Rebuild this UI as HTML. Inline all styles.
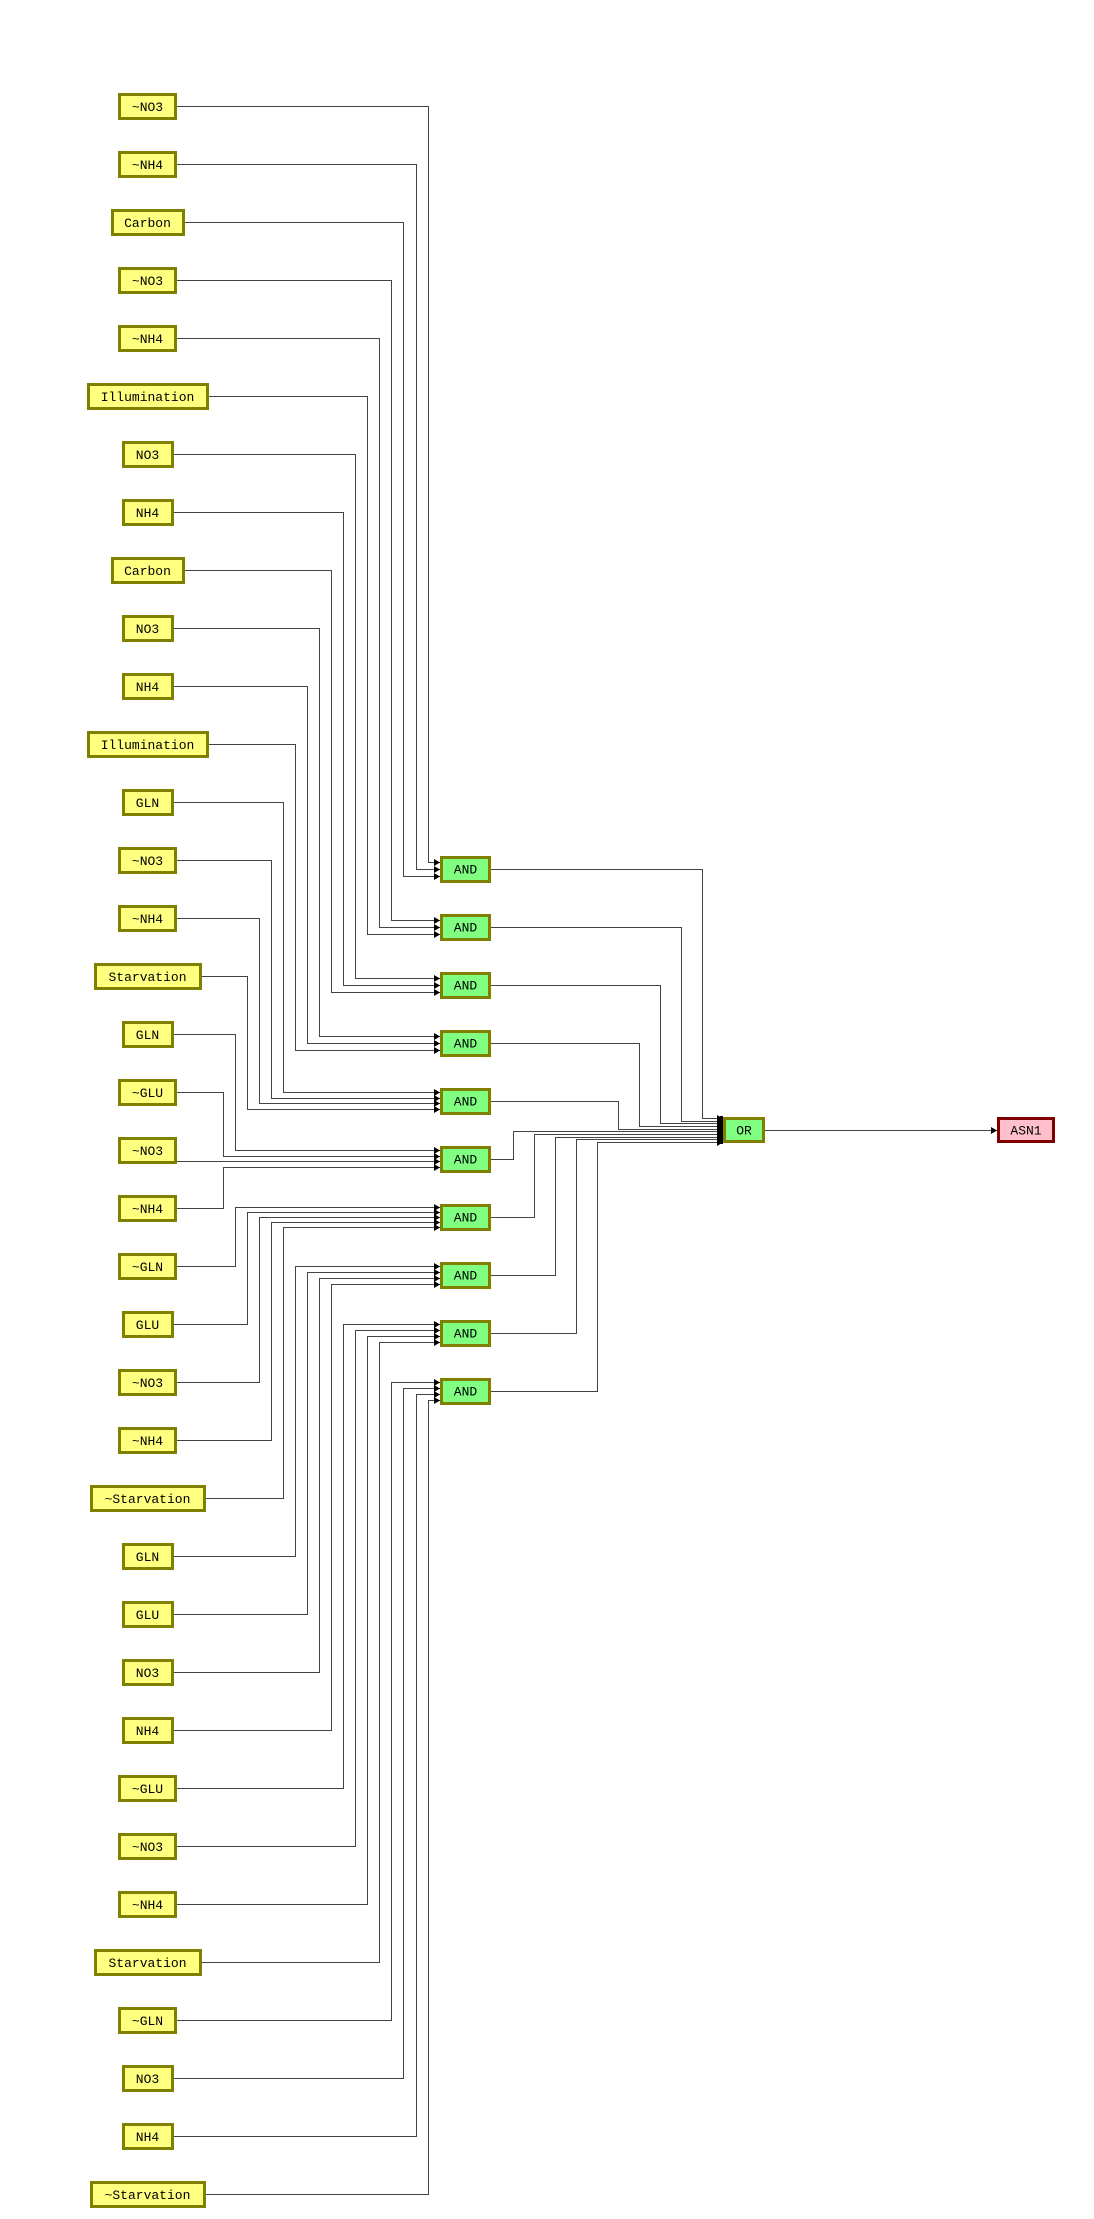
<!DOCTYPE html>
<html><head><meta charset="utf-8"><style>
html,body{margin:0;padding:0;background:#fff;}
svg{display:block;}
text{font-family:"Liberation Mono","DejaVu Sans Mono",monospace;font-size:13px;fill:#000;text-anchor:middle;}
.n{fill:#ffff80;stroke:#808000;stroke-width:3;}
.g{fill:#80ff80;stroke:#808000;stroke-width:3;}
.w{fill:none;stroke:#444;stroke-width:1;marker-end:url(#a);}
</style></head><body>
<svg width="1094" height="2219" viewBox="0 0 1094 2219" xmlns="http://www.w3.org/2000/svg">
<defs><marker id="a" markerWidth="6" markerHeight="7" refX="6" refY="3.5" orient="auto" markerUnits="userSpaceOnUse"><path d="M0,0 L6,3.5 L0,7z" fill="#000"/></marker></defs>
<g>
<path class="w" d="M177 106.5 H428.5 V862.5 H440"/>
<path class="w" d="M177 164.5 H416.5 V869.5 H440"/>
<path class="w" d="M185 222.5 H403.5 V876.5 H440"/>
<path class="w" d="M177 280.5 H391.5 V920.5 H440"/>
<path class="w" d="M177 338.5 H379.5 V927.5 H440"/>
<path class="w" d="M209 396.5 H367.5 V934.5 H440"/>
<path class="w" d="M174 454.5 H355.5 V978.5 H440"/>
<path class="w" d="M174 512.5 H343.5 V985.5 H440"/>
<path class="w" d="M185 570.5 H331.5 V992.5 H440"/>
<path class="w" d="M174 628.5 H319.5 V1036.5 H440"/>
<path class="w" d="M174 686.5 H307.5 V1043.5 H440"/>
<path class="w" d="M209 744.5 H295.5 V1050.5 H440"/>
<path class="w" d="M174 802.5 H283.5 V1092.5 H440"/>
<path class="w" d="M177 860.5 H271.5 V1098.5 H440"/>
<path class="w" d="M177 918.5 H259.5 V1103.5 H440"/>
<path class="w" d="M202 976.5 H247.5 V1109.5 H440"/>
<path class="w" d="M174 1034.5 H235.5 V1150.5 H440"/>
<path class="w" d="M177 1092.5 H223.5 V1156.5 H440"/>
<path class="w" d="M177 1161.5 H440"/>
<path class="w" d="M177 1208.5 H223.5 V1167.5 H440"/>
<path class="w" d="M177 1266.5 H235.5 V1207.5 H440"/>
<path class="w" d="M174 1324.5 H247.5 V1212.5 H440"/>
<path class="w" d="M177 1382.5 H259.5 V1217.5 H440"/>
<path class="w" d="M177 1440.5 H271.5 V1222.5 H440"/>
<path class="w" d="M206 1498.5 H283.5 V1227.5 H440"/>
<path class="w" d="M174 1556.5 H295.5 V1266.5 H440"/>
<path class="w" d="M174 1614.5 H307.5 V1272.5 H440"/>
<path class="w" d="M174 1672.5 H319.5 V1278.5 H440"/>
<path class="w" d="M174 1730.5 H331.5 V1284.5 H440"/>
<path class="w" d="M177 1788.5 H343.5 V1324.5 H440"/>
<path class="w" d="M177 1846.5 H355.5 V1330.5 H440"/>
<path class="w" d="M177 1904.5 H367.5 V1336.5 H440"/>
<path class="w" d="M202 1962.5 H379.5 V1342.5 H440"/>
<path class="w" d="M177 2020.5 H391.5 V1382.5 H440"/>
<path class="w" d="M174 2078.5 H403.5 V1388.5 H440"/>
<path class="w" d="M174 2136.5 H416.5 V1394.5 H440"/>
<path class="w" d="M206 2194.5 H428.5 V1400.5 H440"/>

<path class="w" d="M491 869.5 H702.5 V1118.5 H723"/>
<path class="w" d="M491 927.5 H681.5 V1121.5 H723"/>
<path class="w" d="M491 985.5 H660.5 V1123.5 H723"/>
<path class="w" d="M491 1043.5 H639.5 V1126.5 H723"/>
<path class="w" d="M491 1101.5 H618.5 V1129.5 H723"/>
<path class="w" d="M491 1159.5 H513.5 V1131.5 H723"/>
<path class="w" d="M491 1217.5 H534.5 V1134.5 H723"/>
<path class="w" d="M491 1275.5 H555.5 V1137.5 H723"/>
<path class="w" d="M491 1333.5 H576.5 V1139.5 H723"/>
<path class="w" d="M491 1391.5 H597.5 V1142.5 H723"/>
<rect x="720" y="1116" width="3" height="28" fill="#000"/>
<path class="w" d="M765 1130.5 H997"/>
</g>
<g>
<rect class="n" x="119.5" y="94.5" width="56" height="24"/><text x="147.5" y="111">~NO3</text>
<rect class="n" x="119.5" y="152.5" width="56" height="24"/><text x="147.5" y="169">~NH4</text>
<rect class="n" x="112.5" y="210.5" width="71" height="24"/><text x="147.5" y="227">Carbon</text>
<rect class="n" x="119.5" y="268.5" width="56" height="24"/><text x="147.5" y="285">~NO3</text>
<rect class="n" x="119.5" y="326.5" width="56" height="24"/><text x="147.5" y="343">~NH4</text>
<rect class="n" x="88.5" y="384.5" width="119" height="24"/><text x="147.5" y="401">Illumination</text>
<rect class="n" x="123.5" y="442.5" width="49" height="24"/><text x="147.5" y="459">NO3</text>
<rect class="n" x="123.5" y="500.5" width="49" height="24"/><text x="147.5" y="517">NH4</text>
<rect class="n" x="112.5" y="558.5" width="71" height="24"/><text x="147.5" y="575">Carbon</text>
<rect class="n" x="123.5" y="616.5" width="49" height="24"/><text x="147.5" y="633">NO3</text>
<rect class="n" x="123.5" y="674.5" width="49" height="24"/><text x="147.5" y="691">NH4</text>
<rect class="n" x="88.5" y="732.5" width="119" height="24"/><text x="147.5" y="749">Illumination</text>
<rect class="n" x="123.5" y="790.5" width="49" height="24"/><text x="147.5" y="807">GLN</text>
<rect class="n" x="119.5" y="848.5" width="56" height="24"/><text x="147.5" y="865">~NO3</text>
<rect class="n" x="119.5" y="906.5" width="56" height="24"/><text x="147.5" y="923">~NH4</text>
<rect class="n" x="95.5" y="964.5" width="105" height="24"/><text x="147.5" y="981">Starvation</text>
<rect class="n" x="123.5" y="1022.5" width="49" height="24"/><text x="147.5" y="1039">GLN</text>
<rect class="n" x="119.5" y="1080.5" width="56" height="24"/><text x="147.5" y="1097">~GLU</text>
<rect class="n" x="119.5" y="1138.5" width="56" height="24"/><text x="147.5" y="1155">~NO3</text>
<rect class="n" x="119.5" y="1196.5" width="56" height="24"/><text x="147.5" y="1213">~NH4</text>
<rect class="n" x="119.5" y="1254.5" width="56" height="24"/><text x="147.5" y="1271">~GLN</text>
<rect class="n" x="123.5" y="1312.5" width="49" height="24"/><text x="147.5" y="1329">GLU</text>
<rect class="n" x="119.5" y="1370.5" width="56" height="24"/><text x="147.5" y="1387">~NO3</text>
<rect class="n" x="119.5" y="1428.5" width="56" height="24"/><text x="147.5" y="1445">~NH4</text>
<rect class="n" x="91.5" y="1486.5" width="113" height="24"/><text x="147.5" y="1503">~Starvation</text>
<rect class="n" x="123.5" y="1544.5" width="49" height="24"/><text x="147.5" y="1561">GLN</text>
<rect class="n" x="123.5" y="1602.5" width="49" height="24"/><text x="147.5" y="1619">GLU</text>
<rect class="n" x="123.5" y="1660.5" width="49" height="24"/><text x="147.5" y="1677">NO3</text>
<rect class="n" x="123.5" y="1718.5" width="49" height="24"/><text x="147.5" y="1735">NH4</text>
<rect class="n" x="119.5" y="1776.5" width="56" height="24"/><text x="147.5" y="1793">~GLU</text>
<rect class="n" x="119.5" y="1834.5" width="56" height="24"/><text x="147.5" y="1851">~NO3</text>
<rect class="n" x="119.5" y="1892.5" width="56" height="24"/><text x="147.5" y="1909">~NH4</text>
<rect class="n" x="95.5" y="1950.5" width="105" height="24"/><text x="147.5" y="1967">Starvation</text>
<rect class="n" x="119.5" y="2008.5" width="56" height="24"/><text x="147.5" y="2025">~GLN</text>
<rect class="n" x="123.5" y="2066.5" width="49" height="24"/><text x="147.5" y="2083">NO3</text>
<rect class="n" x="123.5" y="2124.5" width="49" height="24"/><text x="147.5" y="2141">NH4</text>
<rect class="n" x="91.5" y="2182.5" width="113" height="24"/><text x="147.5" y="2199">~Starvation</text>
</g>
<g>
<rect class="g" x="441.5" y="857.5" width="48" height="24"/><text x="465.5" y="873.5">AND</text>
<rect class="g" x="441.5" y="915.5" width="48" height="24"/><text x="465.5" y="931.5">AND</text>
<rect class="g" x="441.5" y="973.5" width="48" height="24"/><text x="465.5" y="989.5">AND</text>
<rect class="g" x="441.5" y="1031.5" width="48" height="24"/><text x="465.5" y="1047.5">AND</text>
<rect class="g" x="441.5" y="1089.5" width="48" height="24"/><text x="465.5" y="1105.5">AND</text>
<rect class="g" x="441.5" y="1147.5" width="48" height="24"/><text x="465.5" y="1163.5">AND</text>
<rect class="g" x="441.5" y="1205.5" width="48" height="24"/><text x="465.5" y="1221.5">AND</text>
<rect class="g" x="441.5" y="1263.5" width="48" height="24"/><text x="465.5" y="1279.5">AND</text>
<rect class="g" x="441.5" y="1321.5" width="48" height="24"/><text x="465.5" y="1337.5">AND</text>
<rect class="g" x="441.5" y="1379.5" width="48" height="24"/><text x="465.5" y="1395.5">AND</text>
<rect class="g" x="724.5" y="1118.5" width="39" height="23"/><text x="744" y="1134.5">OR</text>
<rect x="998.5" y="1118.5" width="55" height="23" fill="#ffc0cb" stroke="#800000" stroke-width="3"/><text x="1026" y="1134.5">ASN1</text>
</g>
</svg>
</body></html>
